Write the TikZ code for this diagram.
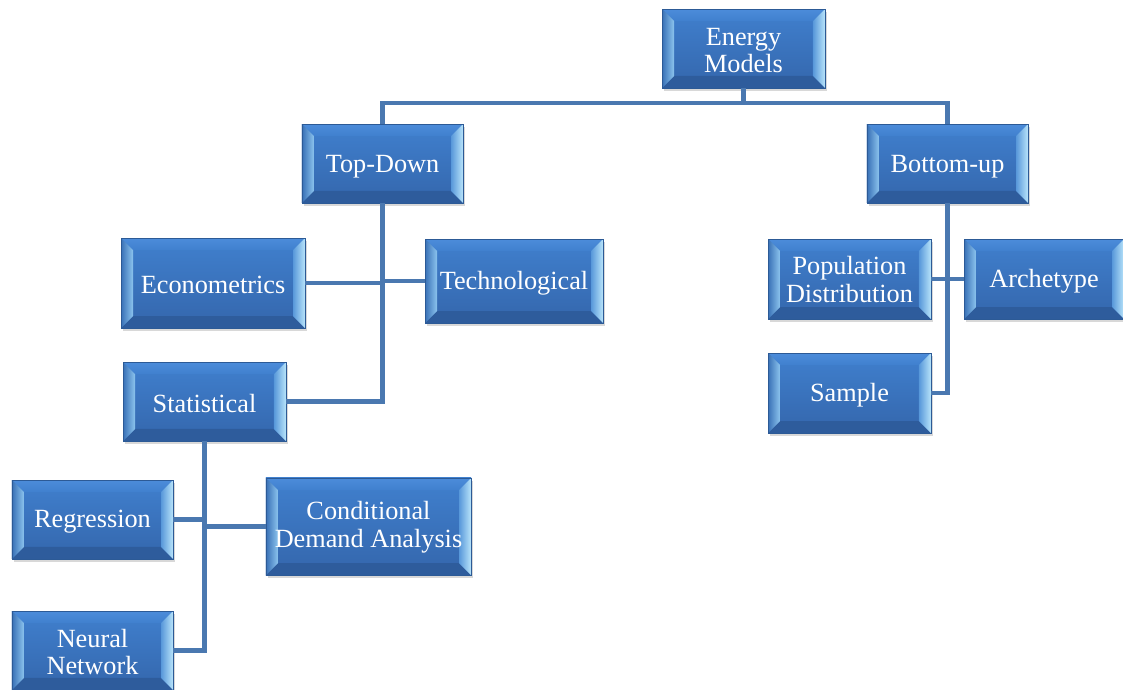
\documentclass[tikz,border=0pt]{standalone}
\usepackage{fontspec}
\setmainfont{Liberation Serif}
\usetikzlibrary{shadows}
\definecolor{linec}{RGB}{74,120,176}
\definecolor{boxtop}{RGB}{64,128,206}
\definecolor{boxbot}{RGB}{52,102,172}
\definecolor{bevtopA}{RGB}{76,140,218}
\definecolor{bevbot}{RGB}{46,92,156}
\definecolor{bevlA}{RGB}{56,112,182}
\definecolor{bevlB}{RGB}{140,196,238}
\definecolor{bevrA}{RGB}{88,152,218}
\definecolor{bevrB}{RGB}{184,228,250}
\definecolor{edgec}{RGB}{44,90,150}
\tikzset{
  conn/.style={draw=linec, line width=3.7pt},
  txt/.style={text=white, align=center, inner sep=0pt, font=\fontsize{19.7}{20.5}\selectfont},
  bx/.style={rectangle, draw=edgec, line width=0.6pt, top color=boxtop, bottom color=boxbot,
    inner sep=0pt,
    drop shadow={opacity=0.3, shadow xshift=1.8pt, shadow yshift=-2.2pt},
    path picture={
      \coordinate (bvnw) at (path picture bounding box.north west);
      \coordinate (bvne) at (path picture bounding box.north east);
      \coordinate (bvsw) at (path picture bounding box.south west);
      \coordinate (bvse) at (path picture bounding box.south east);
      \shade[top color=bevtopA, bottom color=boxtop] (bvnw) -- (bvne) -- ([xshift=-9pt,yshift=-9pt]bvne) -- ([xshift=9pt,yshift=-9pt]bvnw) -- cycle;
      \fill[bevbot] (bvsw) -- (bvse) -- ([xshift=-9pt,yshift=9pt]bvse) -- ([xshift=9pt,yshift=9pt]bvsw) -- cycle;
      \shade[left color=bevlA, right color=bevlB] (bvnw) -- ([xshift=9pt,yshift=-9pt]bvnw) -- ([xshift=9pt,yshift=9pt]bvsw) -- (bvsw) -- cycle;
      \shade[left color=bevrA, right color=bevrB] (bvne) -- ([xshift=-9pt,yshift=-9pt]bvne) -- ([xshift=-9pt,yshift=9pt]bvse) -- (bvse) -- cycle;
    }}
}
\begin{document}
\begin{tikzpicture}[x=0.75pt,y=-0.75pt]
\useasboundingbox (0,0) rectangle (1123,689);
\fill[white] (0,0) rectangle (1123,689);

% boxes
\node[bx, minimum width=122.2pt, minimum height=59.2pt] (EM) at (743.5,48.5) {};
\node[bx, minimum width=120.8pt, minimum height=59.2pt] (TD) at (382.5,163.5) {};
\node[bx, minimum width=120.8pt, minimum height=59.2pt] (BU) at (947.5,163.5) {};
\node[bx, minimum width=138pt, minimum height=67.5pt] (EC) at (213,283) {};
\node[bx, minimum width=133.5pt, minimum height=63pt] (TE) at (514,281) {};
\node[bx, minimum width=122.2pt, minimum height=59.2pt] (ST) at (204.5,401.5) {};
\node[bx, minimum width=120.8pt, minimum height=59.2pt] (RE) at (92.5,519.5) {};
\node[bx, minimum width=153.8pt, minimum height=72.8pt] (CD) at (368.5,526.5) {};
\node[bx, minimum width=120.8pt, minimum height=59.2pt] (NN) at (92.5,650.5) {};
\node[bx, minimum width=122.2pt, minimum height=60pt] (PD) at (849.5,279) {};
\node[bx, minimum width=120pt, minimum height=60pt] (AR) at (1044,279) {};
\node[bx, minimum width=122.2pt, minimum height=60pt] (SA) at (849.5,393) {};

% texts
\node[txt] (EMt) at ([yshift=-1.5pt]EM.center) {Energy\\Models};
\node[txt] (TDt) at ([yshift=-2.4pt]TD.center) {Top-Down};
\node[txt] (BUt) at ([yshift=-2.4pt]BU.center) {Bottom-up};
\node[txt] (ECt) at ([yshift=-1.2pt]EC.center) {Econometrics};
\node[txt] (TEt) at ([yshift=-1.6pt]TE.center) {Technological};
\node[txt] (STt) at ([yshift=-1.8pt]ST.center) {Statistical};
\node[txt] (REt) at ([yshift=-1.4pt]RE.center) {Regression};
\node[txt] (CDt) at ([yshift=-0.5pt]CD.center) {Conditional\\Demand Analysis};
\node[txt] (NNt) at ([yshift=-1pt]NN.center) {Neural\\Network};
\node[txt] (PDt) at ([yshift=-0.5pt]PD.center) {Population\\Distribution};
\node[txt] (ARt) at ([yshift=-1.4pt]AR.center) {Archetype};
\node[txt] (SAt) at ([yshift=-1.6pt]SA.center) {Sample};

% connectors
\coordinate (bar) at (0,103);
\draw[conn] (EM.south) -- (EM.south |- bar);
\draw[conn] (TD.north) -- (TD.north |- bar) -- (BU.north |- bar) -- (BU.north);
\draw[conn] (TD.south) |- (ST.east);
\draw[conn] (EC.east) -- (EC.east -| TD.south);
\draw[conn] (TE.west) -- (TE.west -| TD.south);
\draw[conn] (ST.south) |- (NN.east);
\draw[conn] (RE.east) -- (RE.east -| ST.south);
\draw[conn] (CD.west) -- (CD.west -| ST.south);
\draw[conn] (BU.south) |- (SA.east);
\draw[conn] (PD.east) -- (PD.east -| BU.south);
\draw[conn] (AR.west) -- (AR.west -| BU.south);
\end{tikzpicture}
\end{document}
